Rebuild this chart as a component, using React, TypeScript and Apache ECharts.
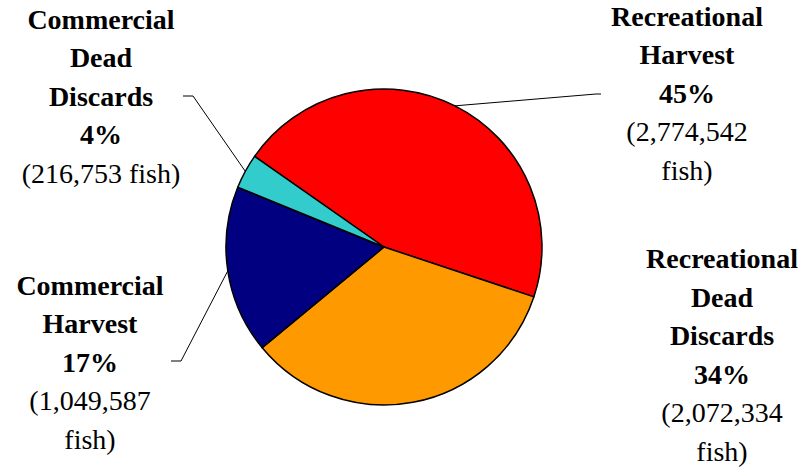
import React, { useEffect, useRef } from "react";
import * as echarts from "echarts";

// ---- data ----
const categories = [
  "Recreational Harvest",
  "Recreational Dead Discards",
  "Commercial Harvest",
  "Commercial Dead Discards",
];
const fishCounts = [2774542, 2072334, 1049587, 216753];
const sliceColors = ["#FF0000", "#FF9900", "#000080", "#33CCCC"];
const nameLines = [
  ["Recreational", "Harvest"],
  ["Recreational", "Dead", "Discards"],
  ["Commercial", "Harvest"],
  ["Commercial", "Dead", "Discards"],
];
const countOnOneLine = [false, false, false, true];

// ---- layout ----
const CENTER: [number, number] = [384, 247];
const RADIUS = 158;
const START_ANGLE = 145;
const LINE_H = 38.5;
const labelPos: [number, number][] = [
  [687, 93],
  [722, 355],
  [90, 362],
  [101, 96],
];
const leaderEnds: ([number, number][] | null)[] = [
  [[596, 94], [601, 94]],
  null,
  [[181, 361], [171, 361]],
  [[193, 96], [183, 96]],
];

const total = fishCounts.reduce((a, b) => a + b, 0);

function midPoint(i: number): [number, number] {
  let cum = 0;
  for (let k = 0; k < i; k++) cum += fishCounts[k];
  const a = ((START_ANGLE - (360 * (cum + fishCounts[i] / 2)) / total) * Math.PI) / 180;
  return [CENTER[0] + RADIUS * Math.cos(a), CENTER[1] - RADIUS * Math.sin(a)];
}

function labelLines(i: number): { text: string; bold: boolean }[] {
  const pct = Math.round((fishCounts[i] / total) * 100);
  const num = fishCounts[i].toLocaleString("en-US");
  const lines = nameLines[i].map((s) => ({ text: s, bold: true }));
  lines.push({ text: `${pct}%`, bold: true });
  if (countOnOneLine[i]) lines.push({ text: `(${num} fish)`, bold: false });
  else {
    lines.push({ text: `(${num}`, bold: false });
    lines.push({ text: "fish)", bold: false });
  }
  return lines;
}

export default function App() {
  const ref = useRef<HTMLDivElement>(null);
  useEffect(() => {
    if (!ref.current) return;
    const chart = echarts.init(ref.current, undefined, { renderer: "svg" });
    const family = "'Liberation Serif', serif";

    const graphics: any[] = [];
    categories.forEach((_, i) => {
      const lines = labelLines(i);
      const [cx, cy] = labelPos[i];
      lines.forEach((ln, k) => {
        graphics.push({
          type: "text",
          x: cx,
          y: cy + (k - (lines.length - 1) / 2) * LINE_H,
          style: {
            text: ln.text,
            font: `${ln.bold ? "bold" : "normal"} 28px ${family}`,
            fill: "#000",
            align: "center",
            verticalAlign: "middle",
          },
        });
      });
      const le = leaderEnds[i];
      if (le) {
        graphics.push({
          type: "polyline",
          shape: { points: [midPoint(i), le[0], le[1]] },
          style: { stroke: "#000", lineWidth: 1, fill: null },
          z: 10,
        });
      }
    });

    chart.setOption({
      animation: false,
      backgroundColor: "#ffffff",
      series: [
        {
          type: "pie",
          center: CENTER,
          radius: RADIUS,
          startAngle: START_ANGLE,
          clockwise: true,
          avoidLabelOverlap: false,
          itemStyle: { borderColor: "#000000", borderWidth: 1.5 },
          emphasis: { disabled: true },
          label: { show: false },
          labelLine: { show: false },
          data: categories.map((name, i) => ({
            name,
            value: fishCounts[i],
            itemStyle: { color: sliceColors[i] },
          })),
        },
      ],
      graphic: graphics,
    });
    return () => chart.dispose();
  }, []);
  return (
    <div
      ref={ref}
      style={{ position: "fixed", left: 0, top: 0, width: 811, height: 474 }}
    />
  );
}
